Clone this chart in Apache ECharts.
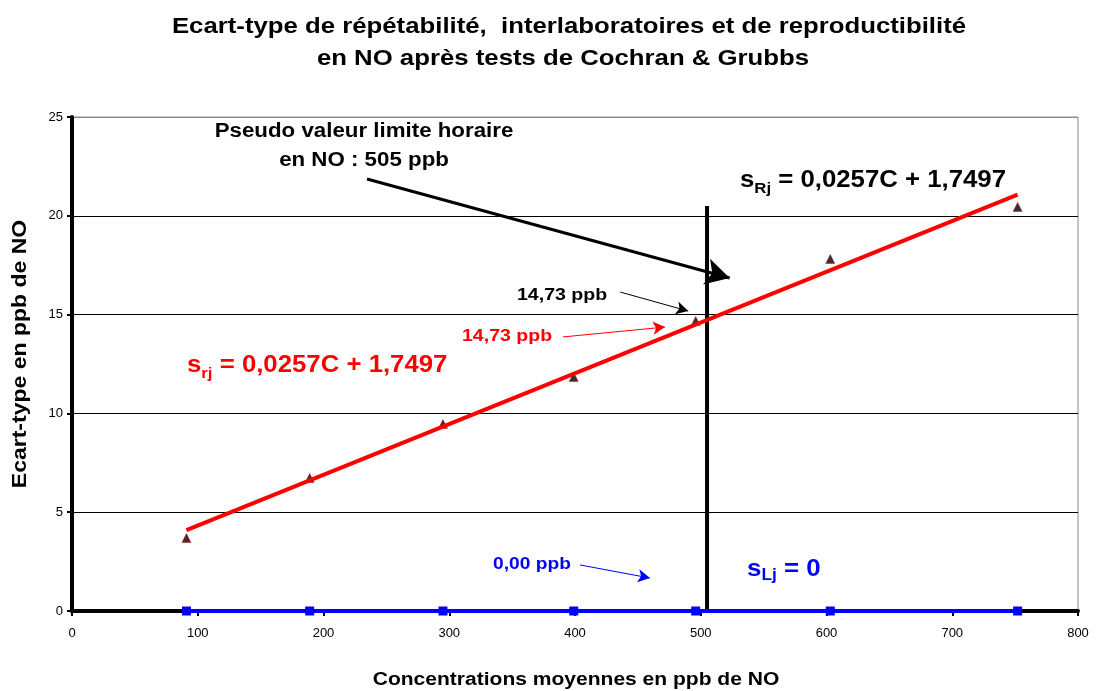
<!DOCTYPE html>
<html>
<head>
<meta charset="utf-8">
<script src="https://cdn.jsdelivr.net/npm/echarts@6/dist/echarts.min.js"></script>
<style>
  html, body { margin: 0; padding: 0; background: #fff; }
  #chart { width: 1098px; height: 691px; }
</style>
</head>
<body>
<div id="chart"></div>
<script>
// concentrations moyennes (ppb)
const concentrations = [91, 189, 295, 399, 496, 603, 752]
// ecart-type de reproductibilite mesure
const sRj = [3.69, 6.73, 9.46, 11.84, 14.68, 17.81, 20.45]
// ecart-type interlaboratoires
const sLj = [0, 0, 0, 0, 0, 0, 0]
// droite de regression (extremites lues)
const trendX = [91, 752]
const trendY = [4.09, 21.07]
// valeur limite
const limitX = 505
const limitTop = 20.5

const font = 'Liberation Sans, Arial, sans-serif'
const stretch = 1.15

const chart = echarts.init(document.getElementById('chart'))

function arrow(from, to, color, width, size) {
  return {
    type: 'line',
    silent: true,
    data: [],
    markLine: {
      silent: true,
      animation: false,
      symbol: ['none', 'arrow'],
      symbolSize: size,
      lineStyle: { color: color, width: width, type: 'solid' },
      label: { show: false },
      data: [[{ coord: from }, { coord: to }]]
    }
  }
}

// simple bold text, stretched a bit horizontally like the original
function label(text, x, y, size, color, align, sx, rotation) {
  return {
    type: 'text',
    x: x,
    y: y,
    scaleX: sx || stretch,
    rotation: rotation || 0,
    silent: true,
    style: {
      text: text,
      x: 0,
      y: 0,
      align: align || 'left',
      verticalAlign: 'middle',
      font: 'bold ' + size + 'px ' + font,
      fill: color
    }
  }
}

// "s" with a subscript followed by the rest of the formula
function formula(sub, rest, x, y, size, subSize, color, sx) {
  return {
    type: 'text',
    x: x,
    y: y,
    scaleX: sx,
    silent: true,
    style: {
      text: '{s|s}{sub|' + sub + '}{s|' + rest + '}',
      x: 0,
      y: 0,
      align: 'left',
      verticalAlign: 'middle',
      rich: {
        s: { font: 'bold ' + size + 'px ' + font, fill: color, lineHeight: 30, verticalAlign: 'middle' },
        sub: { font: 'bold ' + subSize + 'px ' + font, fill: color, lineHeight: 30, verticalAlign: 'bottom', padding: [10, 0, 0, 0] }
      }
    }
  }
}

const option = {
  backgroundColor: '#fff',
  animation: false,
  grid: {
    left: 72,
    right: 20,
    top: 117,
    bottom: 80,
    show: true,
    borderColor: '#8c8c8c',
    borderWidth: 1
  },
  xAxis: {
    type: 'value',
    min: 0,
    max: 800,
    interval: 100,
    axisLine: { show: true, onZero: false, lineStyle: { color: '#000', width: 4 } },
    axisTick: { show: true, length: 5, lineStyle: { color: '#000', width: 2 } },
    axisLabel: { fontFamily: font, fontSize: 13, color: '#000', margin: 16 },
    splitLine: { show: false }
  },
  yAxis: {
    type: 'value',
    min: 0,
    max: 25,
    interval: 5,
    axisLine: { show: true, lineStyle: { color: '#000', width: 4 } },
    axisTick: { show: true, length: 5, lineStyle: { color: '#000', width: 2 } },
    axisLabel: { fontFamily: font, fontSize: 13, color: '#000', margin: 9 },
    splitLine: {
      show: true,
      lineStyle: { color: ['#000', '#000', '#000', '#000', '#000', '#8c8c8c'], width: 1 }
    }
  },
  series: [
    {
      name: 'sLj',
      type: 'line',
      data: concentrations.map((c, i) => [c, sLj[i]]),
      symbol: 'rect',
      symbolSize: 9,
      itemStyle: { color: '#0000ff' },
      lineStyle: { color: '#0000ff', width: 4 },
      z: 4
    },
    {
      name: 'limite',
      type: 'line',
      data: [[limitX, 0], [limitX, limitTop]],
      symbol: 'none',
      lineStyle: { color: '#000', width: 4 },
      z: 3
    },
    {
      name: 'sRj mesure',
      type: 'scatter',
      data: concentrations.map((c, i) => [c, sRj[i]]),
      symbol: 'triangle',
      symbolSize: 9,
      itemStyle: { color: '#000', borderColor: '#d00000', borderWidth: 0.6 },
      z: 5
    },
    {
      name: 'regression',
      type: 'line',
      data: trendX.map((x, i) => [x, trendY[i]]),
      symbol: 'none',
      lineStyle: { color: '#ff0000', width: 4 },
      z: 6
    },
    arrow([234.6, 21.86], [523, 16.85], '#000', 3, [20, 24]),
    arrow([436, 16.14], [490, 15.18], '#000', 1, [10, 12]),
    arrow([390.5, 13.87], [471.6, 14.37], '#ff0000', 1, [10, 12]),
    arrow([404, 2.33], [459.6, 1.67], '#0000ff', 1, [10, 12])
  ],
  graphic: [
    label('Ecart-type de répétabilité,  interlaboratoires et de reproductibilité', 569, 27, 22.4, '#000', 'center'),
    label('en NO après tests de Cochran & Grubbs', 563, 59, 22.4, '#000', 'center'),
    label('Concentrations moyennes en ppb de NO', 576, 680, 18.3, '#000', 'center'),
    label('Ecart-type en ppb de NO', 20, 354, 20, '#000', 'center', stretch, Math.PI / 2),
    label('Pseudo valeur limite horaire', 364, 132, 19.4, '#000', 'center'),
    label('en NO : 505 ppb', 364, 161, 19.4, '#000', 'center'),
    label('14,73 ppb', 517, 295, 17, '#000', 'left'),
    label('14,73 ppb', 462, 336, 17, '#ff0000', 'left'),
    label('0,00 ppb', 493, 564, 16.7, '#0000ff', 'left'),
    formula('Rj', ' = 0,0257C + 1,7497', 740, 181, 23, 15, '#000', 1.12),
    formula('rj', ' = 0,0257C + 1,7497', 187, 366, 23, 15, '#ff0000', 1.12),
    formula('Lj', ' = 0', 747, 569, 24, 16, '#0000ff', 1.08)
  ]
}

chart.setOption(option)
window.addEventListener('resize', () => chart.resize())
</script>
</body>
</html>
